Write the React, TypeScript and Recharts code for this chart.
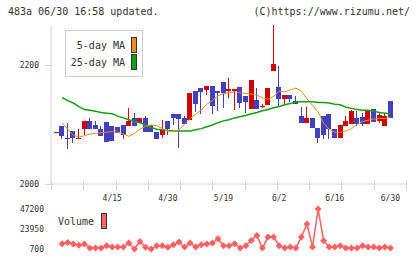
import React from 'react';
import { ComposedChart, LineChart, Bar, Line, XAxis, YAxis } from 'recharts';

const dates = [
  '4/1', '4/2', '4/3', '4/4', '4/7', '4/8', '4/9', '4/10', '4/11', '4/14',
  '4/15', '4/16', '4/17', '4/18', '4/21', '4/22', '4/23', '4/24', '4/25', '4/28',
  '4/30', '5/1', '5/7', '5/8', '5/9', '5/12', '5/13', '5/14', '5/15', '5/16',
  '5/19', '5/20', '5/21', '5/22', '5/23', '5/26', '5/27', '5/28', '5/29', '5/30',
  '6/2', '6/3', '6/4', '6/5', '6/6', '6/9', '6/10', '6/11', '6/12', '6/13',
  '6/16', '6/17', '6/18', '6/19', '6/20', '6/23', '6/24', '6/25', '6/26', '6/27',
  '6/30',
];

const opens = [
  2087, 2097, 2078, 2089, 2077, 2092, 2106, 2099, 2092, 2104,
  2097, 2095, 2099, 2098, 2111, 2102, 2111, 2099, 2088, 2082,
  2106, 2117, 2118, 2111, 2108, 2156, 2162, 2158, 2165, 2156,
  2171, 2157, 2157, 2163, 2148, 2126, 2141, 2130, 2132, 2190,
  2163, 2143, 2150, 2140, 2114, 2103, 2110, 2094, 2114, 2118,
  2092, 2077, 2098, 2100, 2110, 2113, 2100, 2126, 2105, 2098,
  2140,
];
const highs = [
  2087, 2097, 2103, 2089, 2092, 2105, 2111, 2106, 2098, 2104,
  2097, 2095, 2099, 2127, 2119, 2111, 2115, 2099, 2088, 2108,
  2106, 2117, 2118, 2114, 2153, 2156, 2162, 2165, 2165, 2156,
  2171, 2178, 2160, 2163, 2148, 2175, 2161, 2134, 2161, 2267,
  2198, 2150, 2150, 2148, 2129, 2129, 2110, 2094, 2114, 2118,
  2092, 2099, 2114, 2124, 2123, 2119, 2124, 2126, 2119, 2119,
  2140,
];
const lows = [
  2087, 2075, 2058, 2069, 2076, 2082, 2092, 2092, 2080, 2071,
  2073, 2086, 2076, 2098, 2097, 2102, 2088, 2088, 2076, 2078,
  2082, 2099, 2060, 2101, 2108, 2121, 2118, 2150, 2118, 2123,
  2128, 2145, 2124, 2128, 2120, 2126, 2126, 2127, 2132, 2190,
  2131, 2132, 2138, 2134, 2103, 2103, 2094, 2069, 2076, 2076,
  2077, 2077, 2098, 2100, 2098, 2098, 2100, 2104, 2102, 2098,
  2110,
];
const closes = [
  2087, 2080, 2076, 2077, 2078, 2105, 2092, 2092, 2080, 2071,
  2073, 2086, 2082, 2106, 2097, 2111, 2088, 2088, 2076, 2092,
  2092, 2110, 2109, 2101, 2153, 2134, 2155, 2165, 2131, 2153,
  2153, 2160, 2160, 2136, 2138, 2175, 2126, 2131, 2161, 2202,
  2143, 2150, 2143, 2134, 2103, 2110, 2094, 2078, 2082, 2092,
  2077, 2099, 2106, 2123, 2101, 2101, 2124, 2104, 2116, 2114,
  2110,
];

const ma5 = [
  null,
  2103, 2092, 2082, 2079, 2081, 2084, 2085, 2086, 2087, 2088,
  2087, 2084, 2080, 2085, 2092, 2097, 2099, 2098, 2093, 2089,
  2088, 2091, 2100, 2110, 2117, 2124, 2134, 2140, 2148, 2152,
  2153, 2155, 2153, 2152, 2151, 2149, 2145, 2142, 2147, 2156,
  2155, 2158, 2161, 2156, 2143, 2132, 2121, 2102, 2092, 2087,
  2087, 2089, 2093, 2100, 2105, 2107, 2109, 2110, 2110, 2112,
];
const ma25 = [
  null,
  2145, 2140, 2136, 2130, 2125, 2124, 2122, 2120, 2119, 2118,
  2114, 2111, 2108, 2105, 2103, 2099, 2095, 2092, 2091, 2090,
  2089, 2089, 2089, 2089, 2091, 2093, 2096, 2099, 2103, 2106,
  2108, 2111, 2113, 2115, 2118, 2120, 2123, 2125, 2128, 2130,
  2133, 2135, 2138, 2138, 2138, 2138, 2137, 2137, 2136, 2134,
  2133, 2129, 2127, 2125, 2124, 2124, 2122, 2120, 2119, 2118,
];
const volumes = [
  null,
  6850, 8390, 6460, 4930, 6460, 1850, 1850, 1850, 4540, 3000,
  3000, 3000, 7620, 700, 9540, 2620, 700, 4540, 4540, 2620,
  5700, 8770, 3000, 7620, 3000, 5700, 6460, 7620, 12610, 4540,
  4540, 6850, 1850, 4540, 10690, 16460, 1850, 14530, 14530, 4540,
  1850, 3000, 1850, 14530, 29900, 3000, 47200, 10310, 3000, 3000,
  4540, 1850, 1850, 1850, 4540, 3000, 3000, 1850, 3000, 1850,
];

const dateLabels = ['4/15', '4/30', '5/19', '6/2', '6/16', '6/30'];
const priceTicks = [2000, 2200];
const volumeTicks = [700, 23950, 47200];

const RED = '#d00000';
const BLUE = '#4040c0';
const ORANGE = '#f08c1e';
const GREEN = '#10a010';
const VOL = '#ff6060';
const AXIS = '#d4d4d4';
const TEXT = '#333';
const FONT = "'DejaVu Sans Mono', monospace";

const X_DOMAIN: [number, number] = [-1, 62.8];
// evenly spaced tick marks along the bottom axis
const gridTicks = Array.from({ length: 12 }, (_, k) => X_DOMAIN[0] + (k * (X_DOMAIN[1] - X_DOMAIN[0])) / 11);
const dateTickIdx = dateLabels.map((d) => dates.indexOf(d));

const rows = dates.map((date, i) => ({
  i,
  date,
  open: opens[i],
  high: highs[i],
  low: lows[i],
  close: closes[i],
  range: [lows[i], highs[i]],
  ma5: ma5[i],
  ma25: ma25[i],
  volume: volumes[i],
}));

const Candle = (props: any) => {
  const { x, y, width, height, payload } = props;
  const { open, close, high, low } = payload;
  const top = Math.min(y, y + height);
  const h = Math.abs(height);
  const span = high - low;
  const toY = (v: number) => (span > 0 ? top + ((high - v) / span) * h : top);
  const color = close >= open ? RED : BLUE;
  const left = Math.round(x + width / 2 - 2.5);
  const bodyTop = Math.round(toY(Math.max(open, close)));
  const bodyBottom = Math.round(toY(Math.min(open, close)));
  return (
    <g>
      <line x1={left + 2.5} x2={left + 2.5} y1={Math.round(top)} y2={Math.round(top + h)} stroke={color} strokeWidth={1} />
      <rect x={left} y={bodyTop} width={5} height={Math.max(1, bodyBottom - bodyTop)} fill={color} />
    </g>
  );
};

const GridTick = (props: any) => {
  const { x, y } = props;
  const px = Math.round(x) + 0.5;
  return <line x1={px} x2={px} y1={y - 3} y2={y + 6} stroke={AXIS} strokeWidth={1} />;
};

const PriceTick = (props: any) => {
  const { x, y, payload } = props;
  const py = Math.round(y) + 0.5;
  return (
    <g>
      <line x1={x + 6} x2={x + 14} y1={py} y2={py} stroke={AXIS} strokeWidth={1} />
      <text x={x} y={y + 3} textAnchor="end" fontSize={8} fontFamily={FONT} fill={TEXT}>
        {payload.value}
      </text>
    </g>
  );
};

const DateTick = (props: any) => {
  const { x, y, payload } = props;
  return (
    <text x={x} y={y} textAnchor="middle" fontSize={8} fontFamily={FONT} fill={TEXT}>
      {dates[payload.value]}
    </text>
  );
};

const VolumeTick = (props: any) => {
  const { x, y, payload } = props;
  return (
    <text x={x} y={y + 3} textAnchor="end" fontSize={8} fontFamily={FONT} fill={TEXT}>
      {payload.value}
    </text>
  );
};

const renderDiamond = (p: any) => {
  const { cx, cy, index } = p;
  if (cx == null || cy == null || p.value == null) return <g key={index} />;
  const r = 3.5;
  return (
    <polygon
      key={index}
      points={`${cx},${cy - r} ${cx + r},${cy} ${cx},${cy + r} ${cx - r},${cy}`}
      fill={VOL}
    />
  );
};

const swatch = (left: number, top: number, color: string): React.CSSProperties => ({
  position: 'absolute',
  left,
  top,
  width: 6,
  height: 16,
  boxSizing: 'border-box',
  border: '1px solid #333',
  background: color,
});

const label: React.CSSProperties = {
  position: 'absolute',
  fontSize: 10,
  lineHeight: '12px',
  color: TEXT,
  whiteSpace: 'nowrap',
};

export default function App() {
  return (
    <div
      style={{
        position: 'absolute',
        left: 0,
        top: 0,
        width: 420,
        height: 259,
        background: '#fff',
        fontFamily: FONT,
        overflow: 'hidden',
      }}
    >
      <div style={{ ...label, left: 8, top: 6 }}>483a 06/30 16:58 updated.</div>
      <div style={{ ...label, right: 10, top: 6 }}>(C)https://www.rizumu.net/</div>

      <div style={{ position: 'absolute', left: 0, top: 0 }}>
        <ComposedChart width={420} height={200} data={rows} margin={{ top: 25, right: 14, bottom: 0, left: 0 }}>
          <XAxis
            dataKey="i"
            type="number"
            domain={X_DOMAIN}
            ticks={gridTicks}
            interval={0}
            height={16}
            axisLine={{ stroke: AXIS }}
            tickLine={false}
            tickSize={0}
            tickMargin={0}
            tick={<GridTick />}
          />
          <YAxis
            type="number"
            domain={[2000, 2267]}
            ticks={priceTicks}
            interval={0}
            width={51}
            axisLine={{ stroke: AXIS }}
            tickLine={false}
            tickSize={0}
            tickMargin={12}
            tick={<PriceTick />}
          />
          <Line dataKey="ma25" type="linear" stroke={GREEN} strokeWidth={1.5} dot={false} isAnimationActive={false} />
          <Line dataKey="ma5" type="linear" stroke={ORANGE} strokeWidth={1} dot={false} isAnimationActive={false} />
          <Bar dataKey="range" barSize={5} shape={<Candle />} isAnimationActive={false} />
        </ComposedChart>
      </div>

      <div style={{ position: 'absolute', left: 0, top: 190 }}>
        <LineChart width={420} height={65} data={rows} margin={{ top: 0, right: 14, bottom: 6, left: 0 }}>
          <XAxis
            dataKey="i"
            type="number"
            orientation="top"
            domain={X_DOMAIN}
            ticks={dateTickIdx}
            interval={0}
            height={19}
            axisLine={false}
            tickLine={false}
            tickSize={0}
            tickMargin={8}
            tick={<DateTick />}
          />
          <YAxis
            type="number"
            domain={[700, 47200]}
            ticks={volumeTicks}
            interval={0}
            width={51}
            axisLine={false}
            tickLine={false}
            tickSize={0}
            tickMargin={7}
            tick={<VolumeTick />}
          />
          <Line dataKey="volume" type="linear" stroke={VOL} strokeWidth={1.5} dot={renderDiamond} isAnimationActive={false} />
        </LineChart>
      </div>

      {/* moving-average legend */}
      <div
        style={{
          position: 'absolute',
          left: 65,
          top: 30,
          width: 78,
          height: 47,
          boxSizing: 'border-box',
          border: '1px solid #ccc',
          background: '#fff',
        }}
      >
        <div style={{ ...label, right: 17, top: 9 }}>5-day MA</div>
        <div style={{ ...label, right: 17, top: 26 }}>25-day MA</div>
        <div style={swatch(65, 6, ORANGE)} />
        <div style={swatch(65, 23, GREEN)} />
      </div>

      {/* volume legend */}
      <div style={{ ...label, left: 58, top: 216 }}>Volume</div>
      <div style={swatch(101, 213, VOL)} />
    </div>
  );
}
